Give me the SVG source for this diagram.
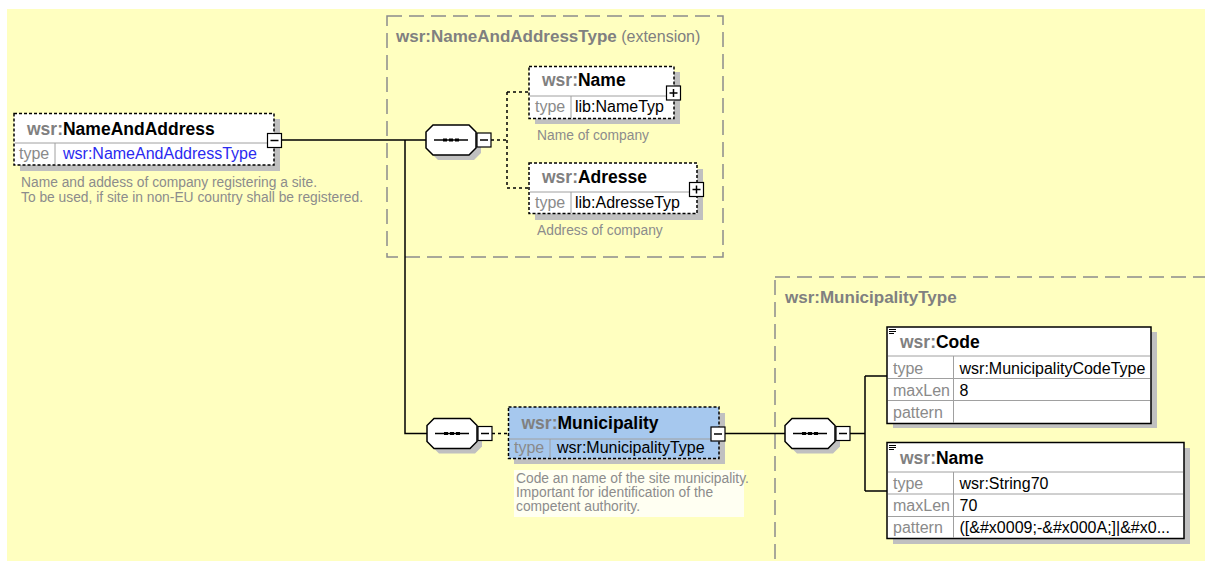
<svg xmlns="http://www.w3.org/2000/svg" xmlns:xlink="http://www.w3.org/1999/xlink" width="1205" height="561" viewBox="0 0 1205 561">
<style>
text{font-family:"Liberation Sans",Arial,sans-serif}
.nm{font-size:17.5px;font-weight:bold;fill:#000}
.ns{fill:#808080}
.ttl{font-size:17px;font-weight:bold;fill:#808080}
.ext{font-size:16px;font-weight:normal;fill:#808080}
.lbl{font-size:16px;fill:#8a8a8a}
.val{font-size:16px;fill:#000}
.blu{font-size:16px;fill:#2a2af0}
.desc{font-size:13.8px;fill:#8c8c8c}
.shadow{fill:#c0c0c0}
.dbox{fill:#fff;stroke:#000;stroke-width:1.5;stroke-dasharray:3 2}
.sbox{fill:#fff;stroke:#000;stroke-width:1.5}
.sep{stroke:#a0a0a0;stroke-width:1;fill:none}
.group{fill:none;stroke:#8c8c8c;stroke-width:1.5;stroke-dasharray:15 7}
.conn{fill:none;stroke:#000;stroke-width:1.5}
.dconn{fill:none;stroke:#000;stroke-width:1.5;stroke-dasharray:3 3}
.btn{fill:#fff;stroke:#000;stroke-width:1.2}
.btnl{stroke:#000;stroke-width:1.5}
</style>
<defs>
<g id="seq">
<polygon class="shadow" points="-13,-10 23,-10 30,-3 30,13 23,20 -13,20 -20,13 -20,-3"/>
<polygon points="-18,-15 18,-15 25,-8 25,8 18,15 -18,15 -25,8 -25,-8" fill="#fff" stroke="#000" stroke-width="1.5"/>
<line x1="-17" y1="0" x2="17" y2="0" stroke="#000" stroke-width="1.5"/>
<rect x="-8" y="-1.5" width="4" height="3" fill="#000"/>
<rect x="-2" y="-1.5" width="4" height="3" fill="#000"/>
<rect x="4" y="-1.5" width="4" height="3" fill="#000"/>
<rect class="btn" x="26" y="-7" width="14" height="14"/>
<line class="btnl" x1="29" y1="0" x2="37" y2="0"/>
</g>
<g id="minus">
<rect class="btn" x="-7" y="-7" width="14" height="14"/>
<line class="btnl" x1="-4" y1="0" x2="4" y2="0"/>
</g>
<g id="plus">
<rect class="btn" x="-7" y="-7" width="14" height="14"/>
<line class="btnl" x1="-4" y1="0" x2="4" y2="0"/>
<line class="btnl" x1="0" y1="-4" x2="0" y2="4"/>
</g>
<g id="doc">
<line x1="0" y1="0.5" x2="7" y2="0.5" stroke="#000" stroke-width="1"/>
<line x1="0" y1="2.5" x2="7" y2="2.5" stroke="#000" stroke-width="1"/>
<line x1="0" y1="4.5" x2="5" y2="4.5" stroke="#000" stroke-width="1"/>
</g>
</defs>

<rect x="7" y="9" width="1198" height="552" fill="#ffffc0"/>

<g id="ext-NameAndAddressType">
<rect class="group" x="387" y="16" width="336" height="241"/>
<text x="396" y="42" class="ttl">wsr:NameAndAddressType<tspan class="ext"> (extension)</tspan></text>
</g>

<g id="grp-MunicipalityType">
<rect class="group" x="775" y="277" width="500" height="400"/>
<text x="785" y="303" class="ttl">wsr:MunicipalityType</text>
</g>

<g id="connectors">
<path class="conn" d="M282,140 H426 M405,140 V433.5 H427"/>
<path class="dconn" d="M491,140 H507 M507,92 V188 M507,92 H529 M507,188 H529"/>
<path class="dconn" d="M492,433.5 H508"/>
<path class="conn" d="M725,433.5 H785 M850,433.5 H865 M865,376 V491 M865,376 H887 M865,491 H887"/>
</g>

<g id="node-NameAndAddress">
<rect class="shadow" x="20" y="119" width="260" height="52"/>
<rect class="dbox" x="14" y="113.5" width="260" height="51.5"/>
<line class="sep" x1="15" y1="143" x2="273" y2="143"/>
<line class="sep" x1="55" y1="143" x2="55" y2="164"/>
<text x="27" y="135" class="nm"><tspan class="ns">wsr:</tspan>NameAndAddress</text>
<text x="19" y="159" class="lbl">type</text>
<text x="63" y="159" class="blu">wsr:NameAndAddressType</text>
<use xlink:href="#minus" x="274.5" y="140.5"/>
<text x="21" y="187" class="desc">Name and addess of company registering a site.</text>
<text x="21" y="201.5" class="desc">To be used, if site in non-EU country shall be registered.</text>
</g>

<g id="seq-1"><use xlink:href="#seq" x="451" y="140"/></g>

<g id="node-Name">
<rect class="shadow" x="535" y="72" width="145" height="52"/>
<rect class="dbox" x="529" y="66.5" width="145" height="52"/>
<line class="sep" x1="530" y1="96" x2="673" y2="96"/>
<line class="sep" x1="571" y1="96" x2="571" y2="118"/>
<text x="542" y="86" class="nm"><tspan class="ns">wsr:</tspan>Name</text>
<text x="535" y="111.5" class="lbl">type</text>
<text x="575" y="111.5" class="val">lib:NameTyp</text>
<use xlink:href="#plus" x="673.5" y="93"/>
<text x="537" y="140" class="desc">Name of company</text>
</g>

<g id="node-Adresse">
<rect class="shadow" x="535" y="169" width="168" height="51"/>
<rect class="dbox" x="529" y="163" width="168" height="50.5"/>
<line class="sep" x1="530" y1="192" x2="696" y2="192"/>
<line class="sep" x1="571" y1="192" x2="571" y2="213"/>
<text x="542" y="183" class="nm"><tspan class="ns">wsr:</tspan>Adresse</text>
<text x="535" y="208" class="lbl">type</text>
<text x="575" y="208" class="val">lib:AdresseTyp</text>
<use xlink:href="#plus" x="696.5" y="189.5"/>
<text x="537" y="235" class="desc">Address of company</text>
</g>

<g id="seq-2"><use xlink:href="#seq" x="452" y="433.5"/></g>

<g id="node-Municipality">
<rect class="shadow" x="514" y="413" width="211" height="51"/>
<rect x="508.5" y="407" width="210.5" height="51.5" fill="#a6c8ee" stroke="#000" stroke-width="1.5" stroke-dasharray="3 2"/>
<line class="sep" x1="509" y1="439" x2="718" y2="439"/>
<line class="sep" x1="550" y1="439" x2="550" y2="458"/>
<text x="521.5" y="428.5" class="nm"><tspan class="ns">wsr:</tspan>Municipality</text>
<text x="514" y="453" class="lbl">type</text>
<text x="557" y="453" class="val">wsr:MunicipalityType</text>
<use xlink:href="#minus" x="718" y="434"/>
<rect x="514" y="470" width="230" height="47" fill="#fffff2"/>
<text x="516" y="482.5" class="desc">Code an name of the site municipality.</text>
<text x="516" y="496.5" class="desc">Important for identification of the</text>
<text x="516" y="510.5" class="desc">competent authority.</text>
</g>

<g id="seq-3"><use xlink:href="#seq" x="810" y="433.5"/></g>

<g id="node-Code">
<rect class="shadow" x="893" y="332" width="264" height="96"/>
<rect class="sbox" x="887" y="327" width="264" height="96.5"/>
<line class="sep" x1="888" y1="356" x2="1150" y2="356"/>
<line class="sep" x1="888" y1="378.5" x2="1150" y2="378.5"/>
<line class="sep" x1="888" y1="400.5" x2="1150" y2="400.5"/>
<line class="sep" x1="953.5" y1="356" x2="953.5" y2="423"/>
<use xlink:href="#doc" x="889" y="329"/>
<text x="900" y="347.5" class="nm"><tspan class="ns">wsr:</tspan>Code</text>
<text x="893" y="373.5" class="lbl">type</text>
<text x="959.5" y="373.5" class="val">wsr:MunicipalityCodeType</text>
<text x="893" y="395.5" class="lbl">maxLen</text>
<text x="959.5" y="395.5" class="val">8</text>
<text x="893" y="418" class="lbl">pattern</text>
</g>

<g id="node-Name2">
<rect class="shadow" x="893" y="448" width="297" height="96"/>
<rect class="sbox" x="887" y="442.5" width="297" height="96"/>
<line class="sep" x1="888" y1="472" x2="1183" y2="472"/>
<line class="sep" x1="888" y1="494" x2="1183" y2="494"/>
<line class="sep" x1="888" y1="516.5" x2="1183" y2="516.5"/>
<line class="sep" x1="953.5" y1="472" x2="953.5" y2="538"/>
<use xlink:href="#doc" x="889" y="445"/>
<text x="900" y="463.5" class="nm"><tspan class="ns">wsr:</tspan>Name</text>
<text x="893" y="488.5" class="lbl">type</text>
<text x="959.5" y="488.5" class="val">wsr:String70</text>
<text x="893" y="511" class="lbl">maxLen</text>
<text x="959.5" y="511" class="val">70</text>
<text x="893" y="533" class="lbl">pattern</text>
<text x="959.5" y="533" class="val">([&amp;#x0009;-&amp;#x000A;]|&amp;#x0...</text>
</g>
</svg>
